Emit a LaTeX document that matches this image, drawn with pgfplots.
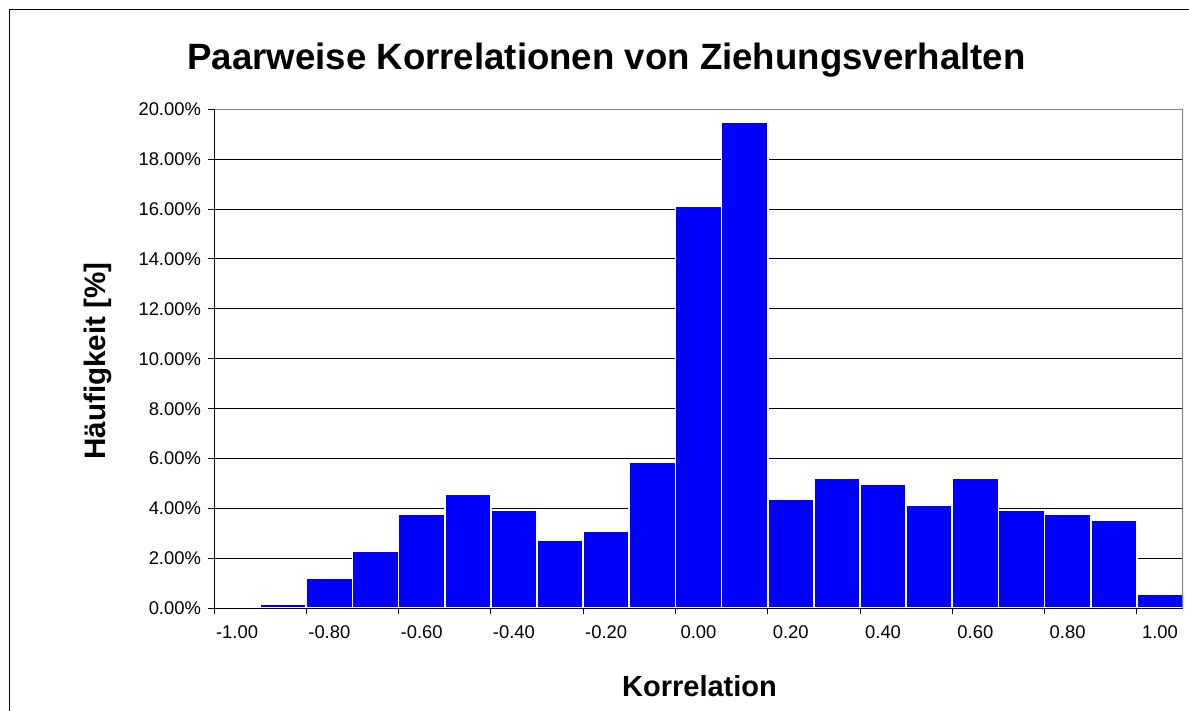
\documentclass[border=0pt]{standalone}
\usepackage{pgfplots}
\pgfplotsset{compat=1.18}
\usepackage{fontspec}
\setmainfont{Liberation Sans}

% histogram values in percent, one per correlation class (-1.00 ... 1.00, step 0.10)
\pgfplotstableread{
idx val
0  0.00
1  0.17
2  1.23
3  2.28
4  3.78
5  4.59
6  3.92
7  2.72
8  3.09
9  5.87
10 16.12
11 19.50
12 4.38
13 5.20
14 4.96
15 4.15
16 5.20
17 3.92
18 3.78
19 3.55
20 0.55
}\korr

\begin{document}
\begin{tikzpicture}
\useasboundingbox (0,0) rectangle (594.5pt,355.5pt);
% outer chart frame, cut off at right and bottom
\draw[black, line width=0.7pt] (4.75pt,-10pt) -- (4.75pt,350.75pt) -- (620pt,350.75pt);
\begin{axis}[
  at={(107pt,51.35pt)}, anchor=south west,
  scale only axis, width=484.5pt, height=249.5pt,
  xmin=-0.5, xmax=20.5, ymin=0, ymax=20,
  ybar, bar width=1,
  axis line style={draw=none},
  tick align=outside,
  xtick pos=bottom, ytick pos=left,
  xtick={0,2,...,20},
  xticklabels={-1.00,-0.80,-0.60,-0.40,-0.20,0.00,0.20,0.40,0.60,0.80,1.00},
  major x tick style={draw=none},
  minor xtick={-0.5,1.5,...,19.5},
  minor tick length=3pt,
  minor x tick style={black, line width=0.5pt},
  ytick={0,2,...,20},
  major tick length=3pt,
  major y tick style={black, line width=0.5pt},
  yticklabel={\pgfmathprintnumber[fixed,fixed zerofill,precision=2]{\tick}\%},
  /pgf/number format/assume math mode=true,
  tick label style={font=\fontsize{9.2}{11}\selectfont},
  xticklabel style={yshift=-2pt},
  ymajorgrids,
  major grid style={black, line width=0.5pt},
]
\addplot[fill=blue, draw=white, line width=0.9pt] table[x=idx, y=val] {\korr};
\draw[gray, line width=0.9pt] (rel axis cs:0,1) -- (rel axis cs:1,1) -- (rel axis cs:1,0);
\draw[black, line width=0.6pt] (rel axis cs:0,1) -- (rel axis cs:0,0) -- (rel axis cs:1,0);
\end{axis}
\node[anchor=base, font=\bfseries\fontsize{18.3}{22}\selectfont] at (303.25pt,320.5pt)
  {Paarweise Korrelationen von Ziehungsverhalten};
\node[anchor=base, font=\bfseries\fontsize{14.5}{17}\selectfont] at (349.75pt,7pt)
  {Korrelation};
\node[rotate=90, font=\bfseries\fontsize{14.8}{17}\selectfont] at (49pt,175pt)
  {Häufigkeit [\%]};
\end{tikzpicture}
\end{document}
